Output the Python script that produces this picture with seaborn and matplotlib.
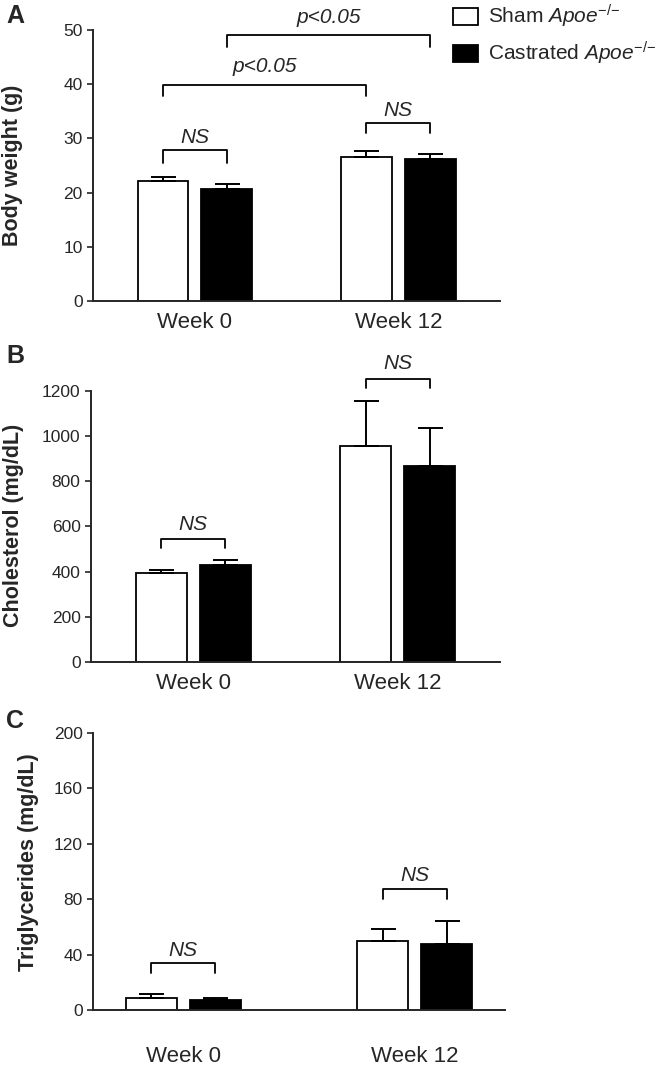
import pandas as pd
import matplotlib
matplotlib.use("Agg")
import matplotlib.pyplot as plt
from matplotlib.patches import Patch
import seaborn as sns

# data (mean and upper SEM)
weeks = ["Week 0", "Week 12"]
groups = ["Sham", "Castrated"]

body_sham = [22.1, 26.6]
body_sham_err = [0.8, 1.1]
body_cast = [20.7, 26.2]
body_cast_err = [0.9, 0.9]

chol_sham = [394, 957]
chol_sham_err = [13, 199]
chol_cast = [430, 868]
chol_cast_err = [22, 168]

tg_sham = [8.7, 49.8]
tg_sham_err = [2.9, 8.7]
tg_cast = [7.6, 47.7]
tg_cast_err = [1.1, 16.6]

sns.set_style("ticks")
plt.rcParams["font.family"] = ["Liberation Sans", "DejaVu Sans"]
plt.rcParams["mathtext.fontset"] = "custom"
plt.rcParams["mathtext.rm"] = "Liberation Sans"
plt.rcParams["mathtext.it"] = "Liberation Sans:italic"


def make_frame(sham, cast):
    rows = []
    for w, s, c in zip(weeks, sham, cast):
        rows.append({"week": w, "group": "Sham", "value": s})
        rows.append({"week": w, "group": "Castrated", "value": c})
    return pd.DataFrame(rows)


def draw_panel(ax, sham, sham_err, cast, cast_err, width, ylim, yticks, ylabel, xpad, xlim):
    df = make_frame(sham, cast)
    sns.barplot(data=df, x="week", y="value", hue="group", hue_order=groups,
                palette={"Sham": "white", "Castrated": "black"},
                edgecolor="black", linewidth=1.3, width=width, gap=0.2,
                errorbar=None, legend=False, ax=ax)
    centers = {}
    for cont, vals, errs, g in zip(ax.containers, [sham, cast], [sham_err, cast_err], groups):
        for bar, v, e, w in zip(cont, vals, errs, weeks):
            cx = bar.get_x() + bar.get_width() / 2
            centers[(g, w)] = cx
            ax.errorbar(cx, v, yerr=[[0], [e]], fmt="none", ecolor="black",
                        elinewidth=1.4, capsize=9, capthick=1.4, zorder=1)
    ax.set_xlim(*xlim)
    ax.set_ylim(*ylim)
    ax.set_yticks(yticks)
    ax.set_xlabel("")
    ax.set_ylabel(ylabel, fontsize=15.5, fontweight="bold")
    ax.tick_params(axis="y", labelsize=12.5, length=4, width=1.2)
    ax.tick_params(axis="x", labelsize=16, length=0, pad=xpad)
    sns.despine(ax=ax)
    for s in ["left", "bottom"]:
        ax.spines[s].set_linewidth(1.4)
    return centers


def bracket(ax, x1, x2, y, leg, text, ty):
    ax.plot([x1, x1, x2, x2], [y - leg, y, y, y - leg], color="black", lw=1.3, clip_on=False)
    ax.text((x1 + x2) / 2, ty, text, ha="center", va="center", fontsize=15,
            fontstyle="italic", clip_on=False)


fig = plt.figure(figsize=(6.7, 10.66), dpi=100)
axA = fig.add_axes([0.1388, 0.7176, 0.6075, 0.2542])
axB = fig.add_axes([0.1358, 0.3790, 0.6104, 0.2542])
axC = fig.add_axes([0.1388, 0.0525, 0.6150, 0.2598])

cA = draw_panel(axA, body_sham, body_sham_err, body_cast, body_cast_err, 0.625,
                (0, 50), [0, 10, 20, 30, 40, 50], "Body weight (g)", 8, (-0.5, 1.5))
cB = draw_panel(axB, chol_sham, chol_sham_err, chol_cast, chol_cast_err, 0.625,
                (0, 1200), [0, 200, 400, 600, 800, 1000, 1200], "Cholesterol (mg/dL)", 8, (-0.5, 1.5))
cC = draw_panel(axC, tg_sham, tg_sham_err, tg_cast, tg_cast_err, 0.55,
                (0, 200), [0, 40, 80, 120, 160, 200], "Triglycerides (mg/dL)", 26, (-0.39, 1.39))

axA.yaxis.set_label_coords(-0.172, 0.5)
axB.yaxis.set_label_coords(-0.165, 0.505)
axC.yaxis.set_label_coords(-0.13, 0.534)

# significance brackets
bracket(axA, cA[("Sham", "Week 0")], cA[("Castrated", "Week 0")], 27.9, 2.4, "NS", 30.2)
bracket(axA, cA[("Sham", "Week 12")], cA[("Castrated", "Week 12")], 32.8, 1.8, "NS", 35.2)
bracket(axA, cA[("Sham", "Week 0")], cA[("Sham", "Week 12")], 39.9, 2.1, "p<0.05", 43.2)
bracket(axA, cA[("Castrated", "Week 0")], cA[("Castrated", "Week 12")], 49.1, 2.2, "p<0.05", 52.3)

bracket(axB, cB[("Sham", "Week 0")], cB[("Castrated", "Week 0")], 545, 40, "NS", 607)
bracket(axB, cB[("Sham", "Week 12")], cB[("Castrated", "Week 12")], 1253, 40, "NS", 1320)

bracket(axC, cC[("Sham", "Week 0")], cC[("Castrated", "Week 0")], 34, 7, "NS", 43)
bracket(axC, cC[("Sham", "Week 12")], cC[("Castrated", "Week 12")], 87.4, 7, "NS", 97.5)

# panel letters
for letter, ypix in [("A", 16), ("B", 356), ("C", 721)]:
    fig.text(15 / 670, 1 - ypix / 1066, letter, ha="center", va="center",
             fontsize=18, fontweight="bold")

handles = [Patch(facecolor="white", edgecolor="black", linewidth=1.3),
           Patch(facecolor="black", edgecolor="black", linewidth=1.3)]
labels = [r"Sham $\mathit{Apoe}^{{-}/{-}}$", r"Castrated $\mathit{Apoe}^{{-}/{-}}$"]
fig.legend(handles, labels, loc="upper left", bbox_to_anchor=(0.676, 0.997),
           frameon=False, fontsize=15, handlelength=1.2, handleheight=0.85,
           handletextpad=0.5, labelspacing=0.45, borderpad=0, borderaxespad=0)

fig.savefig("out.png", dpi=100)
